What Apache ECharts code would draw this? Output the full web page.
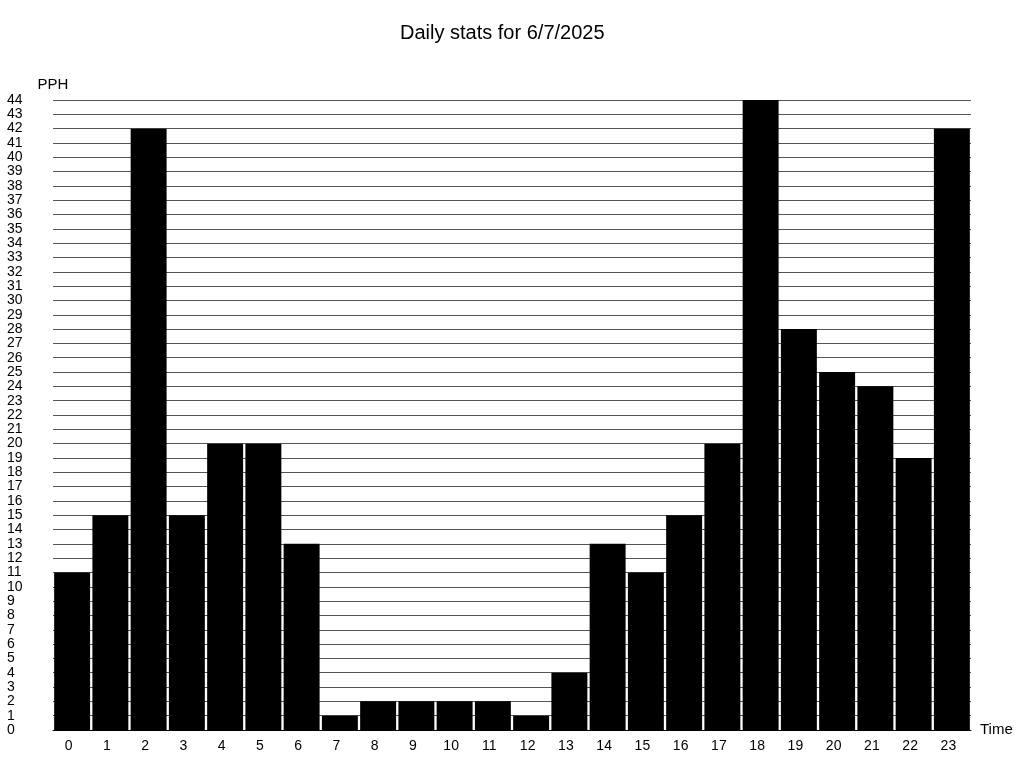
<!DOCTYPE html>
<html>
<head>
<meta charset="utf-8">
<script src="https://cdn.jsdelivr.net/npm/echarts@6/dist/echarts.min.js"></script>
<style>
  html, body { margin: 0; padding: 0; background: #fff; }
  #chart { width: 1024px; height: 768px; }
</style>
</head>
<body>
<div id="chart"></div>
<script>
// 每小时数据
const hours = ['0', '1', '2', '3', '4', '5', '6', '7', '8', '9', '10', '11',
  '12', '13', '14', '15', '16', '17', '18', '19', '20', '21', '22', '23']
const pph = [11, 15, 42, 15, 20, 20, 13, 1, 2, 2, 2, 2,
  1, 4, 13, 11, 15, 20, 44, 28, 25, 24, 19, 42]
const titleText = 'Daily stats for 6/7/2025'

const font = 'Liberation Sans, Arial, sans-serif'
const myChart = echarts.init(document.getElementById('chart'))

const options = {
  animation: false,
  textStyle: { fontFamily: font },
  title: {
    text: titleText,
    left: 395,
    top: 18,
    textStyle: { fontFamily: font, fontSize: 20, fontWeight: 'normal', color: '#000' },
  },
  grid: {
    left: 53,
    right: 53,
    top: 100,
    bottom: 38,
  },
  xAxis: {
    type: 'category',
    data: hours,
    name: 'Time',
    nameLocation: 'end',
    nameGap: 9,
    nameTextStyle: { color: '#000', fontSize: 15, fontFamily: font },
    axisLine: { lineStyle: { color: '#000', width: 1 } },
    axisTick: { show: false },
    // 标签略偏左
    axisLabel: { color: '#000', fontSize: 14, margin: 9, padding: [0, 7, 0, 0], fontFamily: font },
  },
  yAxis: {
    type: 'value',
    min: 0,
    max: 44,
    interval: 1,
    name: 'PPH',
    nameLocation: 'end',
    nameGap: 8,
    nameTextStyle: { color: '#000', fontSize: 15, fontFamily: font, align: 'center' },
    axisLine: { show: false },
    axisTick: { show: false },
    axisLabel: { color: '#000', fontSize: 14, align: 'left', margin: 46, fontFamily: font },
    splitLine: { lineStyle: { color: '#555', width: 1 } },
  },
  series: [
    {
      type: 'bar',
      data: pph,
      barCategoryGap: '6%',
      itemStyle: { color: '#000' },
    },
  ],
}
myChart.setOption(options)
</script>
</body>
</html>
